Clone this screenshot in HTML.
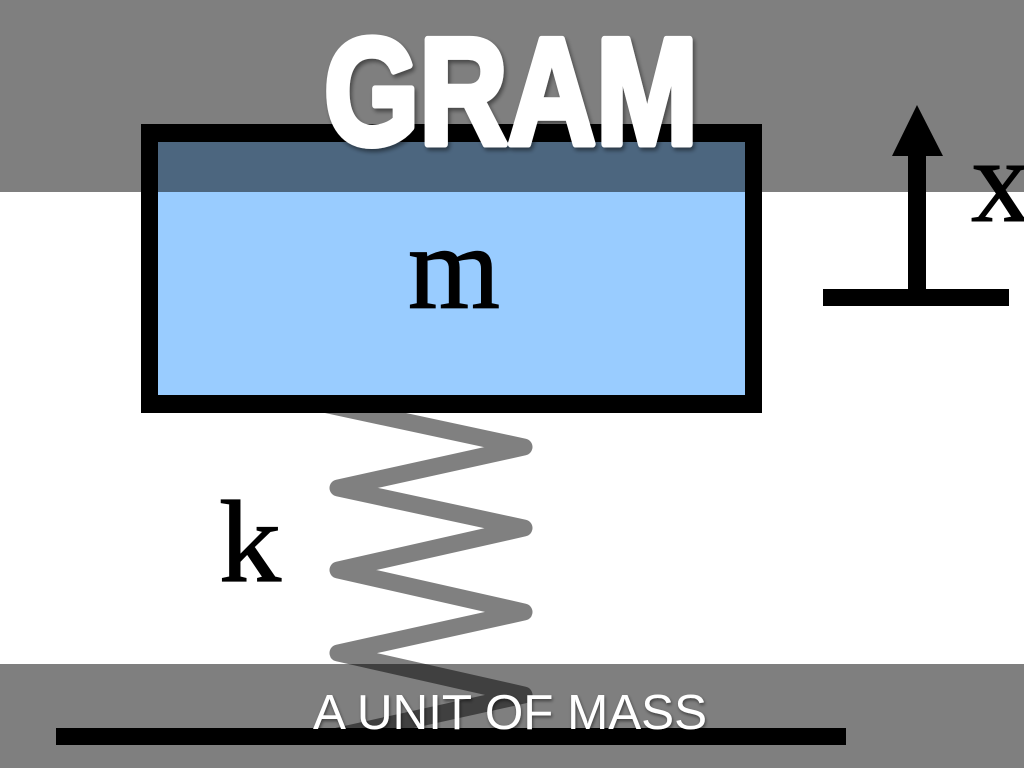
<!DOCTYPE html>
<html>
<head>
<meta charset="utf-8">
<style>
html,body{margin:0;padding:0;background:#fff;}
body{width:1024px;height:768px;overflow:hidden;position:relative;}
svg{position:absolute;left:0;top:0;display:block;}
</style>
</head>
<body>
<svg width="1024" height="768" viewBox="0 0 1024 768" xmlns="http://www.w3.org/2000/svg">
  <defs>
    <filter id="sh" x="-10%" y="-10%" width="130%" height="130%">
      <feDropShadow dx="2" dy="3" stdDeviation="2" flood-color="#000" flood-opacity="0.45"/>
    </filter>
    <filter id="sh2" x="-10%" y="-20%" width="130%" height="150%">
      <feDropShadow dx="1" dy="2" stdDeviation="1.5" flood-color="#000" flood-opacity="0.5"/>
    </filter>
  </defs>
  <rect x="0" y="0" width="1024" height="768" fill="#ffffff"/>

  <!-- spring -->
  <polyline points="300,399 524,447 338,488 524,528 338,570 524,612 338,653 524,695 338,736"
    fill="none" stroke="#808080" stroke-width="17" stroke-linejoin="round" stroke-linecap="round"/>

  <!-- mass box -->
  <rect x="141" y="124" width="621" height="289" fill="#000"/>
  <rect x="158" y="142" width="587" height="253" fill="#99ccff"/>
  <text x="454" y="308" text-anchor="middle" font-family="'Liberation Serif', serif" font-size="120" fill="#000" stroke="#000" stroke-width="1.2" textLength="92" lengthAdjust="spacingAndGlyphs">m</text>

  <!-- k label -->
  <text x="219" y="581" font-family="'Liberation Serif', serif" font-size="117" fill="#000" stroke="#000" stroke-width="1.2" textLength="62" lengthAdjust="spacingAndGlyphs">k</text>

  <!-- x arrow -->
  <rect x="908" y="150" width="18" height="142" fill="#000"/>
  <polygon points="917,105 892,156 943,156" fill="#000"/>
  <rect x="823" y="289" width="186" height="17" fill="#000"/>
  <text x="971" y="221" font-family="'Liberation Serif', serif" font-size="120" fill="#000" stroke="#000" stroke-width="1">x</text>

  <!-- ground -->
  <rect x="56" y="728" width="790" height="17" fill="#000"/>

  <!-- overlays -->
  <rect x="0" y="0" width="1024" height="192" fill="rgba(0,0,0,0.5)"/>
  <rect x="0" y="664" width="1024" height="104" fill="rgba(0,0,0,0.5)"/>

  <!-- titles -->
  <text x="324" y="144" font-family="'Liberation Sans', sans-serif" font-weight="bold" font-size="152"
    fill="#fff" stroke="#fff" stroke-width="7" stroke-linejoin="round"
    textLength="374" lengthAdjust="spacingAndGlyphs" filter="url(#sh)">GRAM</text>
  <text x="313" y="729" font-family="'Liberation Sans', sans-serif" font-size="49" fill="#fff"
    textLength="394" lengthAdjust="spacingAndGlyphs" filter="url(#sh2)">A UNIT OF MASS</text>
</svg>
</body>
</html>
